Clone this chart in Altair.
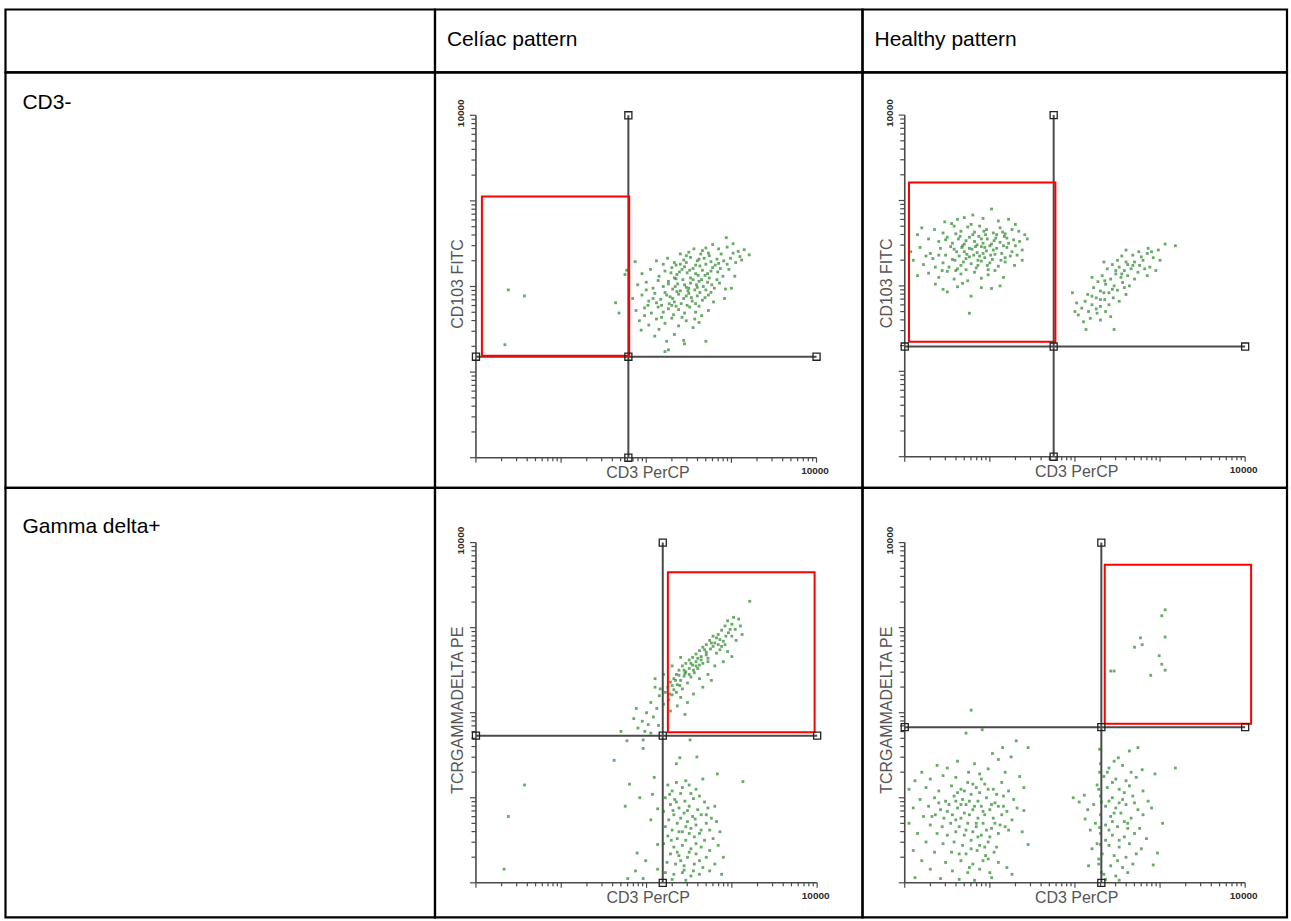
import altair as alt
import pandas as pd

# ---------------- text content ----------------
COL_HEADERS = ["", "Celíac pattern", "Healthy pattern"]
ROW_HEADERS = ["CD3-", "Gamma delta+"]
X_TITLE = "CD3 PerCP"
Y_TITLES = ["CD103 FITC", "TCRGAMMADELTA PE"]
AXIS_MAX_LABEL = "10000"
DECADES = [0.0, 4.0]  # log10(1) .. log10(10000)
TICK_VALUES = [1, 2, 3, 4, 5, 6, 7, 8, 9,
               10, 20, 30, 40, 50, 60, 70, 80, 90,
               100, 200, 300, 400, 500, 600, 700, 800, 900,
               1000, 2000, 3000, 4000, 5000, 6000, 7000, 8000, 9000, 10000]

# ---------------- gates (log10 units), panels: celiac CD3-, healthy CD3-, celiac gd, healthy gd
GATE_X = [1.79, 1.75, 2.19, 2.31]
GATE_Y = [1.18, 1.29, 1.73, 1.83]
BOX_X0 = [0.07, 0.05, 2.25, 2.35]
BOX_X1 = [1.80, 1.77, 3.97, 4.07]
BOX_Y0 = [1.19, 1.345, 1.77, 1.87]
BOX_Y1 = [3.05, 3.21, 3.65, 3.74]

# ---------------- events (log10 CD3 PerCP, log10 second marker) ----------------
CELIAC_CD3 = [
    (2.94, 2.57), (2.78, 2.49), (3.02, 2.50), (2.70, 2.45),
    (2.56, 2.44), (2.66, 2.42), (2.85, 2.44), (2.95, 2.46), (3.08, 2.41), (3.15, 2.43), (3.21, 2.37),
    (2.40, 2.38), (2.50, 2.40), (2.73, 2.39), (3.10, 2.35), (2.88, 2.38),
    (2.12, 2.30), (2.25, 2.33), (2.33, 2.28), (2.44, 2.31), (2.52, 2.34), (2.60, 2.30), (2.68, 2.33),
    (2.76, 2.29), (2.83, 2.32), (2.91, 2.30), (2.99, 2.33), (3.05, 2.28), (2.58, 2.25), (2.70, 2.26),
    (2.40, 2.26), (1.87, 2.29), (2.85, 2.27), (3.12, 2.31),
    (1.95, 2.15), (2.05, 2.20), (2.15, 2.12), (2.22, 2.18), (2.30, 2.22), (2.36, 2.14), (2.42, 2.20),
    (2.48, 2.16), (2.55, 2.21), (2.61, 2.13), (2.66, 2.19), (2.72, 2.15), (2.78, 2.22), (2.84, 2.17),
    (2.90, 2.12), (2.97, 2.20), (3.04, 2.12), (2.52, 2.10), (2.63, 2.24), (2.45, 2.23), (2.74, 2.10),
    (2.33, 2.10), (1.77, 2.19), (1.75, 2.14),
    (1.90, 2.02), (2.00, 2.05), (2.08, 1.98), (2.14, 2.07), (2.20, 2.00), (2.26, 2.06), (2.31, 1.97),
    (2.37, 2.03), (2.43, 2.08), (2.47, 1.99), (2.52, 2.04), (2.57, 1.96), (2.62, 2.06), (2.67, 2.00),
    (2.72, 2.05), (2.80, 1.98), (2.86, 2.04), (2.93, 1.97), (2.40, 1.95), (2.55, 2.08), (2.35, 2.09),
    (2.60, 1.99), (2.49, 1.95), (3.00, 1.98),
    (1.84, 1.86), (1.95, 1.90), (2.03, 1.83), (2.10, 1.92), (2.17, 1.85), (2.22, 1.93), (2.28, 1.88),
    (2.33, 1.82), (2.38, 1.91), (2.44, 1.86), (2.50, 1.92), (2.54, 1.83), (2.60, 1.89), (2.66, 1.84),
    (2.73, 1.90), (2.79, 1.82), (2.27, 1.80), (2.41, 1.80), (2.58, 1.80), (2.92, 1.86), (2.12, 1.81),
    (1.88, 1.72), (1.98, 1.75), (2.06, 1.69), (2.14, 1.76), (2.20, 1.70), (2.26, 1.74), (2.32, 1.67),
    (2.38, 1.73), (2.45, 1.69), (2.51, 1.76), (2.58, 1.70), (2.65, 1.66), (2.73, 1.72), (2.02, 1.78),
    (2.30, 1.78),
    (1.92, 1.60), (2.03, 1.55), (2.12, 1.62), (2.22, 1.57), (2.30, 1.63), (2.38, 1.54), (2.47, 1.60),
    (2.55, 1.52), (1.94, 1.49), (2.15, 1.50),
    (2.10, 1.42), (2.33, 1.44), (2.24, 1.36), (2.44, 1.37), (2.45, 1.33), (2.70, 1.36), (2.26, 1.26),
    (2.22, 1.24),
    (0.38, 1.96), (0.57, 1.89), (0.34, 1.32), (1.64, 1.81), (1.68, 1.69),
    # dense core
    (2.35, 2.25), (2.47, 2.28), (2.62, 2.32), (2.74, 2.36), (2.81, 2.25), (2.29, 2.16), (2.39, 2.17),
    (2.51, 2.19), (2.58, 2.15), (2.69, 2.13), (2.76, 2.18), (2.87, 2.21), (2.26, 2.03), (2.34, 2.00),
    (2.45, 2.02), (2.50, 1.98), (2.59, 2.02), (2.65, 2.08), (2.70, 1.96), (2.77, 2.02), (2.83, 2.08),
    (2.24, 1.90), (2.31, 1.86), (2.36, 1.94), (2.47, 1.89), (2.53, 1.87), (2.63, 1.93), (2.69, 1.87),
    (2.76, 1.93), (2.18, 1.78), (2.35, 1.77), (2.48, 1.78), (2.62, 1.77), (2.42, 1.64), (2.57, 1.62),
    (2.18, 1.64), (2.08, 1.86), (2.00, 1.96), (2.95, 2.26), (3.02, 2.39), (2.64, 2.38), (2.47, 2.36),
    (2.20, 2.26), (1.98, 1.66), (2.62, 1.58),
]

HEALTHY_CD3 = [
    (1.02, 2.90), (0.80, 2.83), (0.62, 2.78), (0.70, 2.80), (0.92, 2.79), (1.10, 2.76), (1.22, 2.78),
    (0.47, 2.75), (1.30, 2.72), (0.55, 2.73),
    (0.20, 2.68), (0.35, 2.66), (0.45, 2.62), (0.58, 2.70), (0.66, 2.64), (0.74, 2.69), (0.82, 2.63),
    (0.88, 2.70), (0.96, 2.66), (1.04, 2.62), (1.12, 2.68), (1.18, 2.61), (1.26, 2.66), (1.34, 2.64),
    (0.15, 2.60), (0.60, 2.61), (0.78, 2.72), (1.41, 2.60),
    (0.28, 2.55), (0.40, 2.52), (0.50, 2.57), (0.56, 2.50), (0.63, 2.55), (0.70, 2.49), (0.76, 2.57),
    (0.82, 2.52), (0.87, 2.58), (0.92, 2.50), (0.97, 2.55), (1.02, 2.49), (1.07, 2.56), (1.12, 2.51),
    (1.17, 2.58), (1.22, 2.50), (1.28, 2.54), (1.35, 2.52), (1.44, 2.55), (0.72, 2.53), (0.95, 2.60),
    (1.05, 2.53), (0.85, 2.48),
    (0.07, 2.40), (0.18, 2.45), (0.30, 2.38), (0.42, 2.44), (0.48, 2.36), (0.54, 2.46), (0.61, 2.40),
    (0.67, 2.45), (0.73, 2.37), (0.79, 2.43), (0.85, 2.39), (0.90, 2.46), (0.96, 2.41), (1.01, 2.36),
    (1.08, 2.44), (1.14, 2.38), (1.20, 2.45), (1.26, 2.40), (1.32, 2.36), (0.88, 2.35), (1.00, 2.47),
    (0.64, 2.35),
    (0.10, 2.30), (0.22, 2.25), (0.33, 2.32), (0.45, 2.27), (0.52, 2.22), (0.59, 2.30), (0.66, 2.24),
    (0.72, 2.32), (0.78, 2.26), (0.84, 2.21), (0.90, 2.29), (0.97, 2.24), (1.03, 2.31), (1.10, 2.23),
    (1.18, 2.28), (1.29, 2.24), (1.38, 2.30), (0.76, 2.34), (0.94, 2.33),
    (0.15, 2.12), (0.28, 2.15), (0.40, 2.10), (0.50, 2.17), (0.58, 2.08), (0.66, 2.14), (0.74, 2.06),
    (0.82, 2.16), (0.90, 2.09), (0.98, 2.13), (1.06, 2.18), (1.16, 2.10), (0.72, 2.19), (0.60, 2.18),
    (0.45, 1.96), (0.50, 1.93), (0.62, 1.99), (0.78, 1.88), (0.90, 1.98), (1.02, 1.97), (1.12, 2.00),
    (0.68, 2.03), (0.36, 2.02), (0.76, 1.68),
    (0.65, 2.58), (0.80, 2.60), (0.93, 2.64), (1.08, 2.60), (1.20, 2.56), (0.68, 2.47), (0.76, 2.44),
    (0.83, 2.46), (0.94, 2.45), (1.04, 2.42), (1.16, 2.47), (1.24, 2.35), (0.58, 2.43), (0.70, 2.40),
    (0.81, 2.36), (0.92, 2.38), (1.06, 2.37), (1.18, 2.33), (0.56, 2.31), (0.69, 2.28), (0.86, 2.30),
    (1.00, 2.27), (1.13, 2.30), (0.40, 2.36), (0.36, 2.22), (0.25, 2.35), (0.48, 2.54), (1.30, 2.47),
    (1.38, 2.42), (0.98, 2.19), (0.86, 2.24), (0.62, 2.20), (0.44, 2.18), (0.90, 2.55), (1.15, 2.63),
    # CD3+ CD103+ population
    (3.06, 2.49), (3.18, 2.47), (2.98, 2.42), (2.85, 2.38), (2.92, 2.33), (2.75, 2.40), (2.68, 2.36),
    (2.60, 2.42), (2.80, 2.30), (3.00, 2.30), (2.55, 2.35), (2.70, 2.28), (2.50, 2.30), (2.62, 2.25),
    (2.88, 2.22), (2.44, 2.25), (2.58, 2.18), (2.66, 2.20), (2.74, 2.16), (2.82, 2.20), (2.38, 2.20),
    (2.48, 2.14), (2.54, 2.10), (2.62, 2.12), (2.70, 2.08), (2.42, 2.08), (2.32, 2.12), (2.27, 2.05),
    (2.36, 2.02), (2.46, 2.00), (2.56, 2.04), (2.64, 2.00), (2.22, 1.98), (2.30, 1.94), (2.40, 1.92),
    (2.50, 1.95), (2.60, 1.90), (2.15, 1.90), (2.25, 1.86), (2.35, 1.84), (2.45, 1.86), (2.12, 1.82),
    (2.20, 1.78), (2.30, 1.76), (2.40, 1.78), (2.08, 1.74), (2.16, 1.70), (2.26, 1.68), (2.36, 1.70),
    (2.04, 1.66), (2.18, 1.62), (2.30, 1.60), (2.42, 1.64), (2.13, 1.49), (2.46, 1.49), (1.97, 1.92),
    (2.02, 1.80), (2.52, 2.22), (2.76, 2.24), (2.90, 2.40), (2.34, 2.28), (2.20, 2.10), (2.85, 2.12),
    (2.95, 2.18), (2.58, 1.98), (2.52, 1.82), (2.10, 1.58), (2.00, 1.70),
    (2.48, 2.18), (2.60, 2.28), (2.35, 2.06), (2.44, 1.96), (2.30, 1.84), (2.20, 1.88), (2.55, 2.14),
    (2.68, 2.24), (2.78, 2.34), (2.86, 2.44), (2.25, 1.73), (2.34, 1.92),
]

CELIAC_GD = [
    (3.21, 3.31), (3.02, 3.12), (3.08, 3.10), (2.95, 3.08), (3.00, 3.04), (2.92, 3.02), (3.10, 3.02),
    (2.98, 2.98), (2.88, 2.97), (3.12, 2.92), (2.84, 2.92), (2.93, 2.90), (2.78, 2.90), (2.86, 2.86),
    (2.74, 2.85), (3.05, 2.85), (2.80, 2.82), (2.70, 2.80), (2.88, 2.78), (2.66, 2.77), (2.75, 2.75),
    (2.62, 2.73), (2.70, 2.71), (2.95, 2.72), (2.58, 2.69), (2.82, 2.70), (2.64, 2.66), (2.54, 2.65),
    (2.72, 2.64), (2.50, 2.62), (2.58, 2.60), (2.46, 2.58), (2.66, 2.58), (2.54, 2.56), (2.42, 2.55),
    (2.50, 2.52), (2.60, 2.52), (2.38, 2.50), (2.46, 2.48), (2.56, 2.47), (2.35, 2.45), (2.44, 2.43),
    (2.52, 2.42), (2.32, 2.40), (2.40, 2.38), (2.62, 2.40), (2.28, 2.36), (2.36, 2.33), (2.48, 2.35),
    (2.25, 2.30), (2.32, 2.27), (2.42, 2.28), (2.22, 2.24), (2.30, 2.21), (2.55, 2.22), (2.40, 2.18),
    (2.26, 2.15), (2.20, 2.10), (2.36, 2.08), (2.48, 2.12), (2.28, 2.02), (2.45, 1.98), (2.72, 2.45),
    (2.80, 2.55), (2.90, 2.60), (3.00, 2.66), (2.66, 2.30), (2.76, 2.38), (2.20, 2.45), (2.30, 2.55),
    (2.40, 2.65),
    (2.45, 2.46), (2.50, 2.45), (2.58, 2.55), (2.64, 2.62), (2.70, 2.68), (2.78, 2.78), (2.84, 2.80),
    (2.90, 2.84), (2.96, 2.94), (3.04, 2.98), (2.34, 2.38), (2.38, 2.44), (2.44, 2.50), (2.52, 2.58),
    (2.60, 2.64), (2.68, 2.74), (2.76, 2.82), (2.82, 2.88), (2.30, 2.32), (2.27, 2.22), (2.35, 2.24),
    (2.39, 2.32), (2.55, 2.50), (2.62, 2.56), (2.72, 2.60), (2.86, 2.74), (2.92, 2.80), (3.00, 2.90),
    (2.10, 2.30), (2.15, 2.20), (2.05, 2.12), (2.12, 2.05), (2.00, 2.00), (2.08, 1.95), (1.95, 1.90),
    (2.02, 1.86), (1.90, 1.82), (1.98, 1.78), (2.10, 2.40), (2.16, 2.28), (1.85, 1.93), (1.70, 1.78),
    (2.05, 1.76), (1.88, 2.05), (2.14, 1.85),
    # lower (TCRgd-) population
    (2.25, 1.15), (2.35, 1.18), (2.42, 1.12), (2.50, 1.15), (2.58, 1.10), (2.30, 1.08), (2.40, 1.05),
    (2.62, 1.02), (2.22, 1.00), (2.33, 0.98), (2.45, 0.96), (2.55, 0.99), (2.68, 0.95), (2.28, 0.92),
    (2.38, 0.88), (2.50, 0.90), (2.60, 0.86), (2.72, 0.88), (2.20, 0.84), (2.32, 0.80), (2.44, 0.82),
    (2.54, 0.78), (2.64, 0.80), (2.76, 0.76), (2.26, 0.74), (2.36, 0.70), (2.48, 0.72), (2.58, 0.68),
    (2.70, 0.70), (2.82, 0.72), (2.22, 0.66), (2.30, 0.62), (2.42, 0.60), (2.52, 0.64), (2.62, 0.58),
    (2.74, 0.62), (2.86, 0.60), (2.25, 0.55), (2.36, 0.52), (2.46, 0.50), (2.56, 0.54), (2.68, 0.50),
    (2.78, 0.52), (2.20, 0.46), (2.32, 0.42), (2.42, 0.44), (2.52, 0.40), (2.64, 0.42), (2.74, 0.38),
    (2.84, 0.44), (2.28, 0.34), (2.38, 0.32), (2.48, 0.30), (2.58, 0.34), (2.70, 0.30), (2.24, 0.24),
    (2.34, 0.22), (2.44, 0.20), (2.56, 0.22), (2.66, 0.18), (2.80, 0.22), (2.22, 0.12), (2.32, 0.10),
    (2.42, 0.12), (2.52, 0.08), (2.62, 0.10), (2.74, 0.14), (2.30, 0.04), (2.46, 0.03), (2.90, 0.30),
    (2.88, 0.10), (2.80, 0.90), (2.46, 1.20), (2.66, 1.22), (2.40, 0.76), (2.50, 0.58),
    (2.35, 0.95), (2.48, 0.85), (2.57, 0.75), (2.38, 0.60), (2.46, 0.66), (2.58, 0.46), (2.36, 0.36),
    (2.50, 0.36), (2.40, 0.26), (2.62, 0.26), (2.29, 0.50), (2.31, 0.85), (2.52, 1.05), (2.64, 0.62),
    (2.44, 0.15), (2.55, 0.14), (2.70, 0.80), (2.27, 1.04),
    (1.62, 1.44), (1.80, 1.16), (1.92, 1.00), (1.75, 0.90), (2.07, 1.04), (2.05, 0.74), (1.89, 0.35),
    (1.99, 0.26), (1.87, 0.14), (1.96, 0.05), (1.78, 0.05), (2.09, 1.24), (2.13, 0.87), (2.13, 0.45),
    (2.13, 0.16), (1.96, 1.68), (1.77, 1.67), (2.51, 1.68), (1.96, 1.58), (2.39, 1.47), (2.59, 1.48),
    (2.35, 1.40), (2.83, 1.28), (3.13, 1.19),
    (0.57, 1.15), (0.38, 0.78), (0.33, 0.16),
]

HEALTHY_GD = [
    (0.78, 2.03), (0.72, 1.76), (0.91, 1.80), (1.31, 1.67), (1.45, 1.59), (1.15, 1.59), (1.03, 1.52),
    (0.62, 1.43), (0.38, 1.38), (0.20, 1.30), (0.50, 1.35), (0.82, 1.40), (1.10, 1.45), (1.25, 1.48),
    (0.12, 1.20), (0.30, 1.22), (0.45, 1.26), (0.60, 1.24), (0.75, 1.30), (0.88, 1.28), (0.98, 1.34),
    (1.18, 1.30), (1.35, 1.25), (0.05, 1.10), (0.25, 1.12), (0.40, 1.08), (0.55, 1.14), (0.66, 1.10),
    (0.74, 1.18), (0.84, 1.12), (0.94, 1.16), (1.04, 1.10), (1.14, 1.18), (1.22, 1.08), (1.40, 1.12),
    (0.18, 0.98), (0.35, 1.00), (0.48, 0.96), (0.58, 1.02), (0.68, 0.98), (0.78, 1.04), (0.86, 0.96),
    (0.96, 1.00), (1.06, 0.94), (1.16, 1.02), (1.28, 0.98), (0.10, 0.88), (0.28, 0.90), (0.42, 0.86),
    (0.52, 0.92), (0.62, 0.88), (0.72, 0.92), (0.80, 0.86), (0.90, 0.90), (1.00, 0.86), (1.10, 0.90),
    (1.20, 0.84), (1.32, 0.88), (0.22, 0.78), (0.36, 0.80), (0.46, 0.76), (0.56, 0.80), (0.66, 0.76),
    (0.76, 0.80), (0.86, 0.76), (0.94, 0.80), (1.04, 0.76), (1.14, 0.80), (1.26, 0.74), (0.05, 0.70),
    (0.30, 0.68), (0.44, 0.66), (0.54, 0.70), (0.64, 0.66), (0.74, 0.70), (0.84, 0.66), (0.92, 0.70),
    (1.02, 0.64), (1.12, 0.68), (1.22, 0.62), (0.15, 0.58), (0.38, 0.58), (0.50, 0.56), (0.60, 0.60),
    (0.70, 0.56), (0.80, 0.60), (0.90, 0.56), (1.00, 0.54), (1.10, 0.58), (0.25, 0.48), (0.45, 0.46),
    (0.58, 0.48), (0.68, 0.44), (0.78, 0.50), (0.88, 0.44), (0.98, 0.48), (1.08, 0.42), (0.10, 0.38),
    (0.35, 0.36), (0.55, 0.36), (0.72, 0.34), (0.85, 0.38), (0.95, 0.32), (1.05, 0.36), (0.20, 0.26),
    (0.48, 0.24), (0.66, 0.26), (0.80, 0.22), (0.92, 0.26), (1.10, 0.24), (0.30, 0.16), (0.56, 0.14),
    (0.74, 0.12), (0.88, 0.16), (1.00, 0.12), (1.20, 0.18), (0.12, 0.06), (0.42, 0.05), (0.64, 0.04),
    (0.82, 0.03), (1.02, 0.06), (1.26, 0.10), (1.45, 0.45), (1.38, 0.60), (1.40, 0.85),
    (0.70, 0.82), (0.82, 0.90), (0.92, 0.84), (1.02, 0.92), (0.76, 0.96), (0.88, 1.06), (0.98, 1.10),
    (0.66, 0.92), (0.60, 0.74), (0.72, 0.62), (0.84, 0.70), (0.96, 0.62), (1.06, 0.70), (0.86, 0.54),
    (0.78, 0.40), (0.94, 0.42), (0.70, 1.08), (0.60, 0.96), (0.50, 0.84), (1.16, 0.90), (1.08, 1.04),
    (0.90, 1.22), (0.80, 1.16), (0.62, 1.06), (0.40, 0.94), (0.32, 0.78), (1.18, 0.66), (0.98, 0.28),
    (0.64, 0.34), (0.76, 0.18),
    # CD3+ population
    (2.29, 1.57), (2.74, 1.59), (2.64, 1.55), (2.46, 1.43), (2.51, 1.47), (2.79, 1.33), (2.94, 1.28),
    (3.18, 1.35), (1.98, 1.00), (2.11, 1.03), (2.15, 0.86), (3.03, 0.70), (2.97, 0.35), (2.92, 0.21),
    (2.30, 1.40), (2.40, 1.35), (2.56, 1.38), (2.66, 1.30), (2.34, 1.25), (2.48, 1.22), (2.60, 1.20),
    (2.72, 1.24), (2.26, 1.15), (2.38, 1.12), (2.52, 1.10), (2.64, 1.14), (2.80, 1.08), (2.30, 1.02),
    (2.44, 1.00), (2.56, 0.98), (2.68, 1.02), (2.86, 0.96), (2.22, 0.92), (2.36, 0.90), (2.48, 0.88),
    (2.60, 0.92), (2.74, 0.86), (2.90, 0.88), (2.30, 0.80), (2.42, 0.78), (2.54, 0.82), (2.66, 0.76),
    (2.80, 0.80), (2.24, 0.70), (2.36, 0.68), (2.50, 0.66), (2.62, 0.70), (2.76, 0.64), (2.30, 0.58),
    (2.44, 0.56), (2.58, 0.54), (2.70, 0.58), (2.84, 0.52), (2.26, 0.46), (2.40, 0.44), (2.52, 0.42),
    (2.64, 0.46), (2.78, 0.40), (2.32, 0.34), (2.46, 0.32), (2.60, 0.30), (2.72, 0.34), (2.28, 0.22),
    (2.42, 0.20), (2.56, 0.18), (2.68, 0.22), (2.34, 0.10), (2.48, 0.08), (2.62, 0.12), (2.36, 0.04),
    (2.52, 0.03), (2.18, 0.62), (2.20, 0.40), (2.16, 0.20), (2.12, 0.75), (2.05, 0.95),
    (2.29, 1.30), (2.28, 1.10), (2.31, 0.95), (2.29, 0.65), (2.30, 0.45), (2.28, 0.28), (2.31, 0.12),
    (2.44, 1.18), (2.58, 1.06), (2.40, 0.96), (2.52, 0.94), (2.46, 0.82), (2.58, 0.72), (2.40, 0.62),
    (2.52, 0.50), (2.36, 0.50), (2.62, 0.64), (2.50, 0.26), (2.38, 1.30), (2.70, 0.94), (2.44, 0.72),
    # TCRgd+ events
    (3.06, 3.21), (3.02, 3.14), (2.77, 2.88), (2.79, 2.80), (2.70, 2.77), (3.06, 2.89), (2.99, 2.67),
    (3.02, 2.57), (3.06, 2.50), (2.89, 2.44), (2.42, 2.49), (2.46, 2.49),
]

PANEL_POINTS = [CELIAC_CD3, HEALTHY_CD3, CELIAC_GD, HEALTHY_GD]

# ---------------- layout (pixels) ----------------
GRID_STROKE = 2.2
PAD_LEFT, PAD_TOP = 3.5, 7         # places the outer table lines like the reference
COL_W = [430, 428, 425]            # distance between vertical table lines
ROW_H = [63, 416, 430]             # distance between horizontal table lines
# axis origin inside each cell and pixels per decade
PANEL_ORIGIN = [(41, 385.7), (42.3, 384.7), (41, 395.3), (42.3, 395.3)]
PANEL_PPD = [(85.25, 85.7), (85.2, 85.5), (85.4, 85.15), (85.2, 85.15)]

DOT_COLOR = "#2e8b2e"
LINE_COLOR = "#4a4a4a"
TEXT_GREY = "#555555"
FONT = "Liberation Sans"


def text_cell(label, w, h, x, y):
    df = pd.DataFrame({"label": [label]})
    return alt.Chart(df).mark_text(
        align="left", baseline="middle", fontSize=21, font=FONT, color="black"
    ).encode(x=alt.value(x), y=alt.value(y), text="label:N").properties(width=w, height=h)


def panel(i, ytitle, w, h):
    ox, oy = PANEL_ORIGIN[i]
    px, py = PANEL_PPD[i]
    xs = alt.Scale(domain=[-ox / px, (w - ox) / px], nice=False, zero=False)
    ys = alt.Scale(domain=[-(h - oy) / py, oy / py], nice=False, zero=False)

    def X(f):
        return alt.X(f, type="quantitative", scale=xs, axis=None)

    def Y(f):
        return alt.Y(f, type="quantitative", scale=ys, axis=None)

    lo, hi = DECADES
    gx, gy = GATE_X[i], GATE_Y[i]

    dots = alt.Chart(pd.DataFrame(PANEL_POINTS[i], columns=["x", "y"])).mark_square(
        size=8, color=DOT_COLOR, opacity=0.72
    ).encode(x=X("x"), y=Y("y"))

    axes_df = pd.DataFrame({"x": [lo, lo], "y": [lo, lo], "x2": [hi, lo], "y2": [lo, hi]})
    axes = alt.Chart(axes_df).mark_rule(color=LINE_COLOR, strokeWidth=1.6).encode(
        x=X("x"), y=Y("y"), x2="x2", y2="y2")

    ticks_df = pd.DataFrame({"v": TICK_VALUES})
    xticks = alt.Chart(ticks_df).transform_calculate(
        p="log(datum.v)/LN10"
    ).transform_calculate(
        a=f"{lo}",
        b=f"abs(datum.p - round(datum.p)) < 1e-6 ? {-5.0 / py} : {-3.5 / py}",
    ).mark_rule(color=LINE_COLOR, strokeWidth=1.2).encode(x=X("p"), y=Y("a"), y2="b")
    yticks = alt.Chart(ticks_df).transform_calculate(
        p="log(datum.v)/LN10"
    ).transform_calculate(
        a=f"{lo}",
        b=f"abs(datum.p - round(datum.p)) < 1e-6 ? {-6.0 / px} : {-4.5 / px}",
    ).mark_rule(color=LINE_COLOR, strokeWidth=1.2).encode(y=Y("p"), x=X("a"), x2="b")

    gates_df = pd.DataFrame({"x": [gx, lo], "y": [lo, gy], "x2": [gx, hi], "y2": [hi, gy]})
    gates = alt.Chart(gates_df).mark_rule(color=LINE_COLOR, strokeWidth=2).encode(
        x=X("x"), y=Y("y"), x2="x2", y2="y2")

    sq_df = pd.DataFrame({"x": [lo, gx, hi, gx, gx], "y": [gy, gy, gy, lo, hi]})
    squares = alt.Chart(sq_df).mark_point(
        shape="square", filled=False, size=50, color="#222222", strokeWidth=1.3, opacity=1
    ).encode(x=X("x"), y=Y("y"))

    box_df = pd.DataFrame({"x": [BOX_X0[i]], "x2": [BOX_X1[i]], "y": [BOX_Y0[i]], "y2": [BOX_Y1[i]]})
    box = alt.Chart(box_df).mark_rect(fillOpacity=0, stroke="#ff0000", strokeWidth=2).encode(
        x=X("x"), x2="x2", y=Y("y"), y2="y2")

    mid = (lo + hi) / 2
    xt_df = pd.DataFrame({"x": [mid + 0.02], "y": [lo - 15.3 / py], "t": [X_TITLE]})
    xtitle = alt.Chart(xt_df).mark_text(
        fontSize=16, font=FONT, color=TEXT_GREY, baseline="middle", align="center"
    ).encode(x=X("x"), y=Y("y"), text="t:N")

    yt_df = pd.DataFrame({"x": [lo - 18.0 / px], "y": [mid + 0.03], "t": [ytitle]})
    ytitle_m = alt.Chart(yt_df).mark_text(
        fontSize=16, font=FONT, color=TEXT_GREY, baseline="middle", align="center", angle=270
    ).encode(x=X("x"), y=Y("y"), text="t:N")

    top_df = pd.DataFrame({"x": [lo - 15.0 / px], "y": [hi + 2.0 / py], "t": [AXIS_MAX_LABEL]})
    top_lbl = alt.Chart(top_df).mark_text(
        fontSize=10, font=FONT, fontWeight="bold", color="#2a2a2a", baseline="middle",
        align="center", angle=270
    ).encode(x=X("x"), y=Y("y"), text="t:N")

    right_df = pd.DataFrame({"x": [hi - 1.5 / px], "y": [lo - 13.0 / py], "t": [AXIS_MAX_LABEL]})
    right_lbl = alt.Chart(right_df).mark_text(
        fontSize=10, font=FONT, fontWeight="bold", color="#2a2a2a", baseline="middle", align="center"
    ).encode(x=X("x"), y=Y("y"), text="t:N")

    return alt.layer(
        dots, axes, xticks, yticks, gates, box, squares, xtitle, ytitle_m, top_lbl, right_lbl
    ).properties(width=w, height=h)


cells = [
    text_cell(COL_HEADERS[0], COL_W[0], ROW_H[0], 12, 31),
    text_cell(COL_HEADERS[1], COL_W[1], ROW_H[0], 12, 31),
    text_cell(COL_HEADERS[2], COL_W[2], ROW_H[0], 12, 31),
    text_cell(ROW_HEADERS[0], COL_W[0], ROW_H[1], 17, 31),
    panel(0, Y_TITLES[0], COL_W[1], ROW_H[1]),
    panel(1, Y_TITLES[0], COL_W[2], ROW_H[1]),
    text_cell(ROW_HEADERS[1], COL_W[0], ROW_H[2], 17, 39),
    panel(2, Y_TITLES[1], COL_W[1], ROW_H[2]),
    panel(3, Y_TITLES[1], COL_W[2], ROW_H[2]),
]

chart = alt.concat(*cells, columns=3, spacing=0, bounds="flush").properties(
    padding={"left": PAD_LEFT, "top": PAD_TOP, "right": 2, "bottom": 2},
    background="white",
).configure_view(
    stroke="black", strokeWidth=GRID_STROKE
).configure_concat(spacing=0)

chart.save("out.html", embed_options={"renderer": "svg", "actions": False})
